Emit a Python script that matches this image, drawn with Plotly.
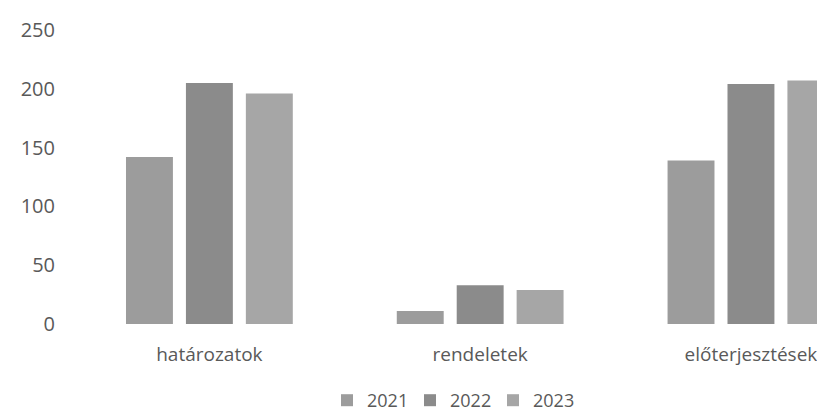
import plotly.graph_objects as go

categories = ["határozatok", "rendeletek", "előterjesztések"]
years = ["2021", "2022", "2023"]
values_2021 = [142, 11, 139]
values_2022 = [205, 33, 204]
values_2023 = [196, 29, 207]
y_ticks = [0, 50, 100, 150, 200, 250]

series = [values_2021, values_2022, values_2023]
colors = ["#9c9c9c", "#8b8b8b", "#a6a6a6"]

fig = go.Figure()
for name, vals, col in zip(years, series, colors):
    fig.add_trace(go.Bar(x=categories, y=vals, name=name, marker_color=col,
                         marker_line_width=0))

L, W, B, H = 66, 759, 320, 298
def px(x):
    return (x - L) / W
def py(y):
    return (B - y) / H

fig.update_layout(
    template="none",
    width=825, height=411,
    margin=dict(l=L, r=0, t=22, b=91),
    paper_bgcolor="white", plot_bgcolor="white",
    barmode="group", bargap=0.336, bargroupgap=0.217,
    font=dict(family="Open Sans", color="#595959", size=20),
    legend=dict(orientation="h", x=px(319), xanchor="left", y=py(398), yanchor="middle",
                entrywidth=38, entrywidthmode="pixels",
                font=dict(size=18, color="#595959"), itemclick=False),
    xaxis=dict(range=[-0.5, 2.303], showgrid=False, showline=False, zeroline=False,
               automargin=False,
               ticks="outside", ticklen=13, tickcolor="rgba(0,0,0,0)",
               tickfont=dict(size=19)),
    yaxis=dict(range=[0, 250], tickvals=y_ticks, showgrid=False, showline=False,
               automargin=False,
               zeroline=False, ticks="outside", ticklen=14, tickcolor="rgba(0,0,0,0)",
               tickfont=dict(size=20)),
)

fig.write_html("out.html")
